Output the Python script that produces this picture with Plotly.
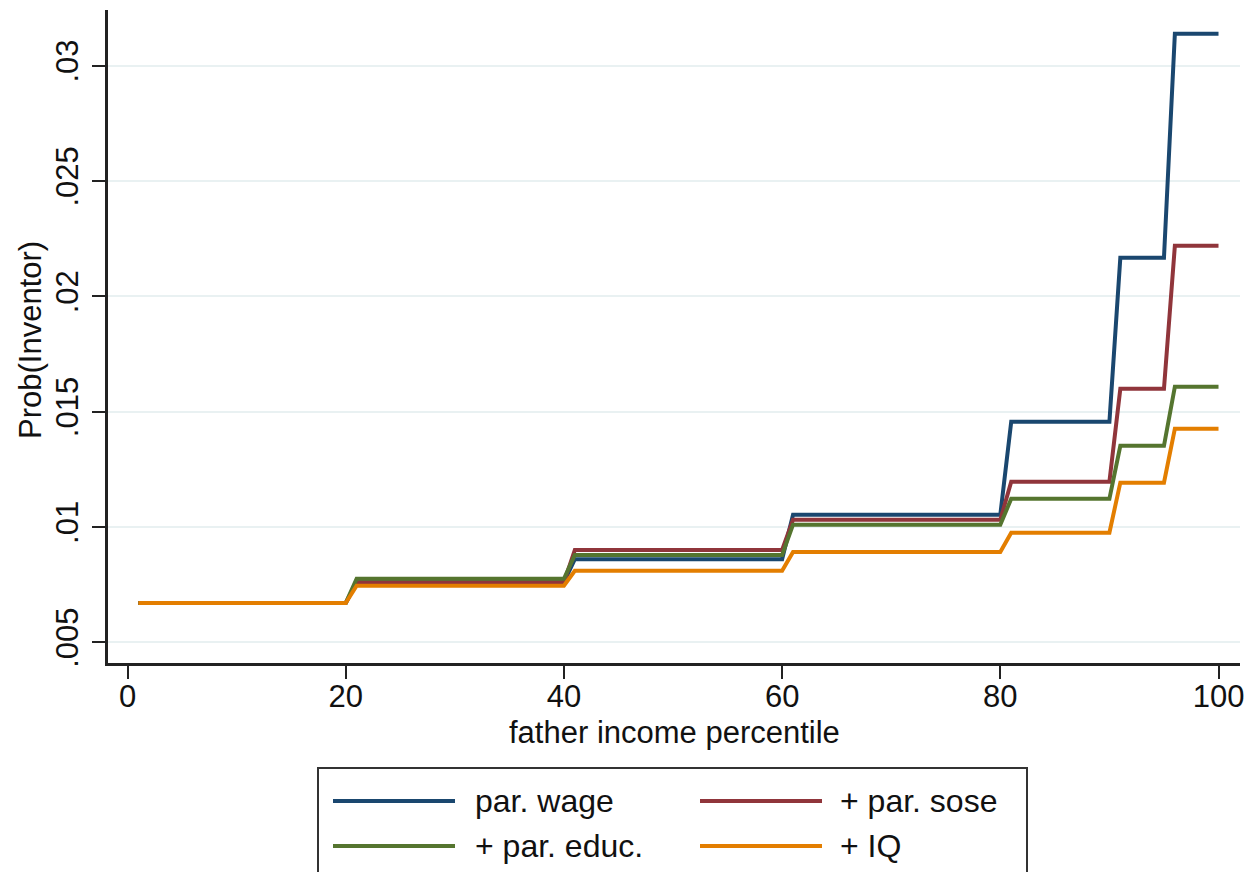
import plotly.graph_objects as go

# Percentile groups (start / end of each flat step)
group_start = [1, 21, 41, 61, 81, 91, 96]
group_end = [20, 40, 60, 80, 90, 95, 100]

# Predicted probability of being an inventor, per group
par_wage = [0.0067, 0.0076, 0.0086, 0.01053, 0.01456, 0.02167, 0.03139]
par_sose = [0.0067, 0.0076, 0.0090, 0.01031, 0.01196, 0.01599, 0.02219]
par_educ = [0.0067, 0.00775, 0.00879, 0.0101, 0.01122, 0.01352, 0.01608]
plus_iq = [0.0067, 0.00745, 0.0081, 0.00892, 0.00975, 0.01192, 0.01426]

series_names = ["par. wage", "+ par. sose", "+ par. educ.", "+ IQ"]
series_colors = ["#1a476f", "#90353b", "#55752f", "#e37e00"]
series_values = [par_wage, par_sose, par_educ, plus_iq]

x_ticks = [0, 20, 40, 60, 80, 100]
y_ticks = [0.005, 0.01, 0.015, 0.02, 0.025, 0.03]
y_tick_labels = [".005", ".01", ".015", ".02", ".025", ".03"]

FONT = "Liberation Sans, Arial, sans-serif"

fig = go.Figure()
for name, color, vals in zip(series_names, series_colors, series_values):
    xs, ys = [], []
    for s, e, v in zip(group_start, group_end, vals):
        xs += [s, e]
        ys += [v, v]
    fig.add_trace(go.Scatter(x=xs, y=ys, mode="lines", name=name,
                             line=dict(color=color, width=4),
                             showlegend=False))

W, H = 1250, 872
ml, mr, mt, mb = 108, 10, 10, 209
pw, ph = W - ml - mr, H - mt - mb


def px(x):
    return (x - ml) / pw


def py(y):
    return (H - mb - y) / ph


fig.update_layout(
    width=W, height=H,
    margin=dict(l=ml, r=mr, t=mt, b=mb, autoexpand=False),
    paper_bgcolor="white", plot_bgcolor="white",
    font=dict(family=FONT, size=31, color="#111111"),
    showlegend=False,
)

fig.update_xaxes(
    range=[-1.79, 101.97], tickvals=x_ticks, ticks="outside", ticklen=13,
    tickwidth=2, tickcolor="#222222", showline=True, linewidth=2.5,
    linecolor="#222222", showgrid=False, zeroline=False,
    ticklabelstandoff=-9,
    tickfont=dict(size=31, family=FONT, color="#111111"),
)
fig.update_yaxes(
    range=[0.004102, 0.032415], tickvals=y_ticks, ticktext=y_tick_labels,
    tickangle=-90, ticks="outside", ticklen=13, tickwidth=2,
    tickcolor="#222222", showline=True, linewidth=2.5, linecolor="#222222",
    showgrid=True, gridcolor="#e9f1f2", gridwidth=2, zeroline=False,
    ticklabelstandoff=2,
    tickfont=dict(size=31, family=FONT, color="#111111"),
)

annotations = [
    dict(text="father income percentile", x=0.5, y=py(732), xref="paper",
         yref="paper", showarrow=False, xanchor="center", yanchor="middle",
         font=dict(size=31, family=FONT, color="#111111")),
    dict(text="Prob(Inventor)", x=px(30), y=py(340), xref="paper",
         yref="paper", showarrow=False, textangle=-90, xanchor="center",
         yanchor="middle", font=dict(size=31, family=FONT, color="#111111")),
]

shapes = [
    dict(type="rect", xref="paper", yref="paper", x0=px(318), x1=px(1027),
         y0=py(768), y1=py(890), line=dict(color="#333333", width=2),
         fillcolor="white", layer="below"),
]

# custom legend layout (2 columns x 2 rows)
leg_rows = [801, 846]
leg_line_x = [(333, 455), (700, 822)]
leg_text_x = [473, 838]
for i, (name, color) in enumerate(zip(series_names, series_colors)):
    r, c = i // 2, i % 2
    shapes.append(dict(type="line", xref="paper", yref="paper",
                       x0=px(leg_line_x[c][0]), x1=px(leg_line_x[c][1]),
                       y0=py(leg_rows[r]), y1=py(leg_rows[r]),
                       line=dict(color=color, width=4)))
    annotations.append(dict(text=name, x=px(leg_text_x[c]), y=py(leg_rows[r]),
                            xref="paper", yref="paper", showarrow=False,
                            xanchor="left", yanchor="middle",
                            font=dict(size=32, family=FONT, color="#111111")))

fig.update_layout(shapes=shapes, annotations=annotations)

fig.write_html(
    "out.html",
    config={"displayModeBar": False},
    post_script="document.body.style.margin='0';document.body.style.overflow='hidden';",
)
